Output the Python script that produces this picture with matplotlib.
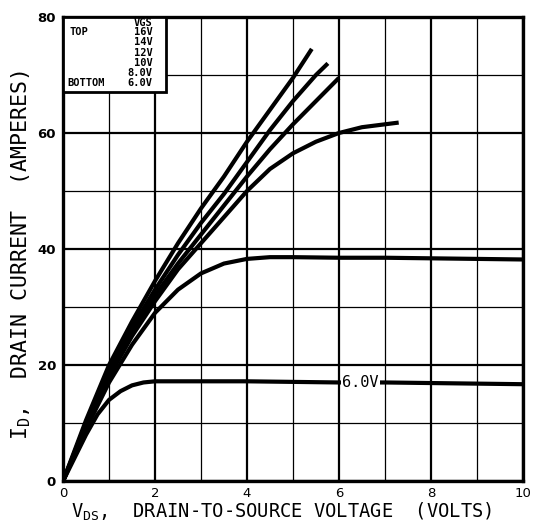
# Output characteristics: drain current vs drain-to-source voltage
import matplotlib
matplotlib.use("Agg")
import matplotlib.pyplot as plt
from matplotlib.patches import Rectangle

# Data (volts, amperes)
v16 = [0, 0.5, 1.0, 1.5, 2.0, 2.5, 3.0, 3.5, 4.0, 4.5, 5.0, 5.41]
i16 = [0, 10.5, 20, 27.5, 34.5, 41, 47, 52.5, 58.5, 64, 69.5, 74.5]

v14 = [0, 0.5, 1.0, 1.5, 2.0, 2.5, 3.0, 3.5, 4.0, 4.5, 5.0, 5.5, 5.76]
i14 = [0, 10, 19, 26.5, 33, 39, 44.5, 49.5, 55, 60.5, 65.5, 70, 72]

v12 = [0, 0.5, 1.0, 1.5, 2.0, 2.5, 3.0, 3.5, 4.0, 4.5, 5.0, 5.5, 6.0]
i12 = [0, 9.5, 18, 25.5, 32, 37.5, 42.5, 47.5, 52.5, 57.2, 61.5, 65.5, 69.5]

v10 = [0, 0.5, 1.0, 1.5, 2.0, 2.5, 3.0, 3.5, 4.0, 4.5, 5.0, 5.5, 6.0, 6.5, 7.0, 7.3]
i10 = [0, 9.5, 18, 25, 31, 36.5, 41, 45.5, 50, 53.8, 56.5, 58.5, 60, 61, 61.5, 61.8]

v8 = [0, 0.5, 1.0, 1.5, 2.0, 2.5, 3.0, 3.5, 4.0, 4.5, 5.0, 6.0, 7.0, 8.0, 9.0, 10.0]
i8 = [0, 9, 17, 23.5, 29, 33, 35.8, 37.5, 38.3, 38.6, 38.6, 38.5, 38.5, 38.4, 38.3, 38.2]

v6 = [0, 0.25, 0.5, 0.75, 1.0, 1.25, 1.5, 1.75, 2.0, 3.0, 4.0, 5.0, 6.0, 7.0, 8.0, 9.0, 10.0]
i6 = [0, 4, 8, 11.5, 14, 15.5, 16.5, 17, 17.2, 17.2, 17.2, 17.1, 17.0, 17.0, 16.9, 16.8, 16.7]

legend_vgs = ["16V", "14V", "12V", "10V", "8.0V", "6.0V"]

mono = "DejaVu Sans Mono"

fig = plt.figure(figsize=(5.39, 5.31), dpi=100)
ax = fig.add_axes([0.117, 0.094, 0.853, 0.874])

ax.set_xlim(0, 10)
ax.set_ylim(0, 80)
ax.set_xticks(range(0, 11, 2))
ax.set_xticks(range(1, 10, 2), minor=True)
ax.set_yticks(range(0, 81, 20))
ax.set_yticks(range(10, 80, 20), minor=True)
ax.grid(which="major", color="black", linewidth=1.6)
ax.grid(which="minor", color="black", linewidth=0.9)
ax.tick_params(which="both", length=0)
ax.tick_params(axis="x", pad=4)
ax.tick_params(axis="y", pad=5)
for lab in ax.get_xticklabels():
    lab.set_fontsize(9.5)
for lab in ax.get_yticklabels():
    lab.set_fontweight("bold")
    lab.set_fontsize(9.5)
for s in ax.spines.values():
    s.set_linewidth(2.4)

for v, i in [(v16, i16), (v14, i14), (v12, i12), (v10, i10), (v8, i8), (v6, i6)]:
    ax.plot(v, i, color="black", linewidth=3.0, solid_capstyle="butt", zorder=3)

# curve label for the lowest trace
ax.text(6.47, 17.0, "6.0V", family=mono, fontsize=11, ha="center", va="center",
        bbox=dict(facecolor="white", edgecolor="none", pad=1.0), zorder=4)

# legend box
ax.add_patch(Rectangle((0, 0.838), 0.224, 0.162, transform=ax.transAxes,
                       facecolor="white", edgecolor="black", linewidth=2.0, zorder=5))

def px(x, y):
    return ((x - 63) / 460.0, (481 - y) / 464.0)

ax.text(*px(134, 23), "VGS", transform=ax.transAxes, family=mono, fontweight="bold",
        fontsize=7.5, va="center", ha="left", zorder=6)
ax.text(*px(69, 32), "TOP", transform=ax.transAxes, family=mono, fontweight="bold",
        fontsize=7.5, va="center", ha="left", zorder=6)
ax.text(*px(67, 83), "BOTTOM", transform=ax.transAxes, family=mono, fontweight="bold",
        fontsize=7.5, va="center", ha="left", zorder=6)
rows_y = [32, 42, 53, 63, 73, 83]
for lab, yy in zip(legend_vgs, rows_y):
    x0 = 134 if len(lab) == 3 else 127
    ax.text(*px(x0, yy), lab, transform=ax.transAxes, family=mono, fontweight="bold",
            fontsize=7.5, va="center", ha="left", zorder=6)

fig.text(0.523, 0.036, r"$\mathregular{V_{DS}}$,  DRAIN-TO-SOURCE VOLTAGE  (VOLTS)",
         family=mono, fontsize=13.5, ha="center", va="center")
fig.text(0.04, 0.52, r"$\mathregular{I_{D}}$,  DRAIN CURRENT  (AMPERES)",
         family=mono, fontsize=15.5, ha="center", va="center", rotation=90)

fig.savefig("out.png", dpi=100)
